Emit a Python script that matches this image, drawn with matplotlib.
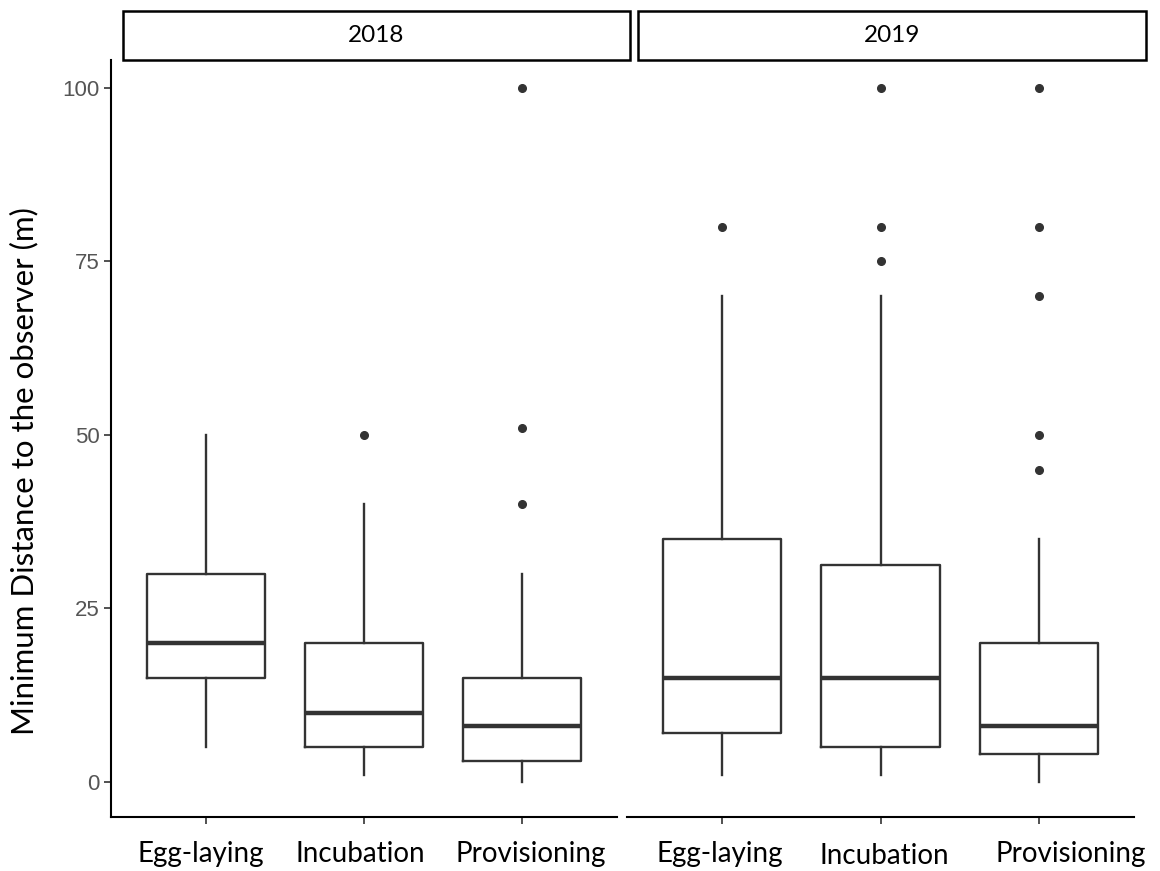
import numpy as np
import matplotlib
matplotlib.use('Agg')
import matplotlib.pyplot as plt
import matplotlib.transforms as mtransforms
from matplotlib.patches import Rectangle

# summary stats (m)
stages = ['Egg-laying', 'Incubation', 'Provisioning']
years = ['2018', '2019']

whislo_2018 = [5, 1, 0]
q1_2018 = [15, 5, 3]
med_2018 = [20, 10, 8]
q3_2018 = [30, 20, 15]
whishi_2018 = [50, 40, 30]
fliers_2018 = [[], [50], [40, 51, 100]]

whislo_2019 = [1, 1, 0]
q1_2019 = [7, 5, 4]
med_2019 = [15, 15, 8]
q3_2019 = [35, 31.25, 20]
whishi_2019 = [70, 70, 35]
fliers_2019 = [[80], [75, 80, 100], [45, 50, 70, 80, 100]]

yticks = [0, 25, 50, 75, 100]

LINE = '#333333'
LABEL_FONT = ['Lato', 'DejaVu Sans']


def make_stats(lo, q1, med, q3, hi, fl):
    out = []
    for i in range(len(lo)):
        out.append({'whislo': lo[i], 'q1': q1[i], 'med': med[i], 'q3': q3[i],
                    'whishi': hi[i], 'fliers': fl[i], 'label': stages[i]})
    return out


stats = {
    '2018': make_stats(whislo_2018, q1_2018, med_2018, q3_2018, whishi_2018, fliers_2018),
    '2019': make_stats(whislo_2019, q1_2019, med_2019, q3_2019, whishi_2019, fliers_2019),
}

W, H = 1160, 871
fig = plt.figure(figsize=(W / 100, H / 100), dpi=100)

# panel pixel extents (left, right), shared top/bottom
panels = [(111, 617), (627, 1134)]
strips = [(123, 630), (638, 1146)]
top, bottom = 60, 817
# small nudges of the category labels (points), as in the original
label_shift = [[(-4, 0), (-3, 0), (6, 0)], [(-2, 0), (3, -2), (23, 0)]]

for k, year in enumerate(years):
    x0, x1 = panels[k]
    ax = fig.add_axes([x0 / W, 1 - bottom / H, (x1 - x0) / W, (bottom - top) / H])
    ax.bxp(stats[year], positions=[1, 2, 3], widths=0.75, showcaps=False,
           patch_artist=False,
           boxprops=dict(color=LINE, linewidth=1.7),
           whiskerprops=dict(color=LINE, linewidth=1.7),
           medianprops=dict(color=LINE, linewidth=3.2, solid_capstyle='butt'),
           flierprops=dict(marker='o', markerfacecolor=LINE, markeredgecolor=LINE,
                           markersize=5.5, linestyle='none'))
    ax.set_xlim(0.4, 3.6)
    ax.set_ylim(-5.04, 104.0)
    for s in ['top', 'right']:
        ax.spines[s].set_visible(False)
    ax.spines['bottom'].set_linewidth(1.5)
    ax.spines['bottom'].set_color('black')
    ax.set_xticks([1, 2, 3])
    ax.set_xticklabels(stages, fontsize=20, family=LABEL_FONT, color='black')
    ax.tick_params(axis='x', length=5, width=1.2, color=LINE, pad=12)
    for lab, (dx, dy) in zip(ax.get_xticklabels(), label_shift[k]):
        off = mtransforms.ScaledTranslation(dx / 72, dy / 72, fig.dpi_scale_trans)
        lab.set_transform(lab.get_transform() + off)
    if k == 0:
        ax.spines['left'].set_linewidth(1.5)
        ax.spines['left'].set_color('black')
        ax.set_yticks(yticks)
        ax.set_yticklabels([str(v) for v in yticks], fontsize=16,
                           family=['Liberation Sans', 'DejaVu Sans'], color='#555555')
        ax.tick_params(axis='y', length=5, width=1.2, color=LINE, pad=3)
    else:
        ax.spines['left'].set_visible(False)
        ax.set_yticks([])

    # facet strip
    sx0, sx1 = strips[k]
    fig.patches.append(Rectangle((sx0 / W, 1 - 60 / H), (sx1 - sx0) / W, 49 / H,
                                 transform=fig.transFigure, facecolor='white',
                                 edgecolor='black', linewidth=1.8))
    fig.text((sx0 + sx1) / 2 / W, 1 - 36 / H, year, ha='center', va='center',
             fontsize=17.5, family=LABEL_FONT)

fig.text(24 / W, 1 - 471 / H, 'Minimum Distance to the observer (m)', rotation=90,
         ha='center', va='center', fontsize=22.5, family=LABEL_FONT)

fig.savefig('out.png', dpi=100)
